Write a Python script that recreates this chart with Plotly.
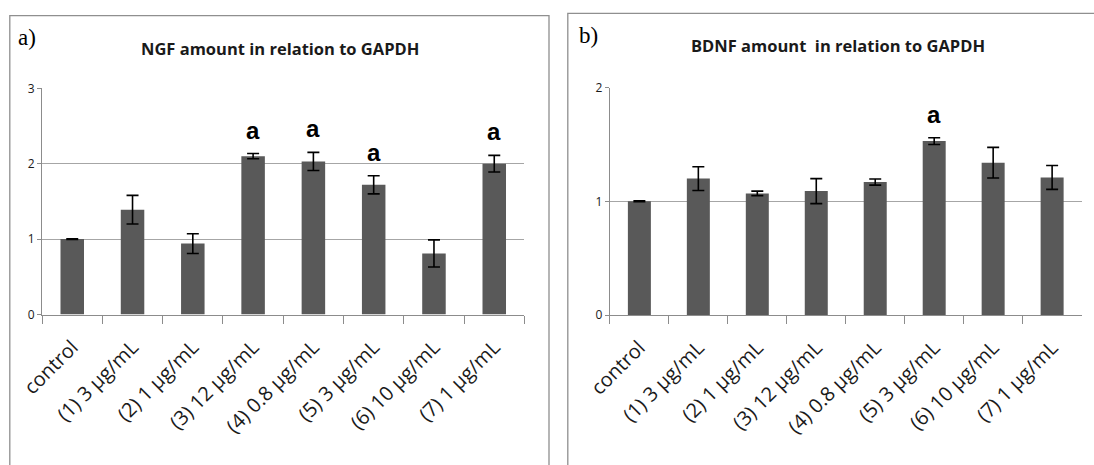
import plotly.graph_objects as go

categories = ["control", "(1) 3 µg/mL", "(2) 1 µg/mL", "(3) 12 µg/mL", "(4) 0.8 µg/mL",
              "(5) 3 µg/mL", "(6) 10 µg/mL", "(7) 1 µg/mL"]

ngf_values = [1.00, 1.39, 0.94, 2.10, 2.03, 1.72, 0.81, 2.00]
ngf_errors = [0.005, 0.19, 0.13, 0.035, 0.12, 0.12, 0.18, 0.11]
ngf_sig = ["", "", "", "a", "a", "a", "", "a"]

bdnf_values = [1.00, 1.20, 1.07, 1.09, 1.17, 1.53, 1.34, 1.21]
bdnf_errors = [0.004, 0.105, 0.02, 0.11, 0.027, 0.03, 0.135, 0.105]
bdnf_sig = ["", "", "", "", "", "a", "", ""]

ngf_ticks = [0, 1, 2, 3]
bdnf_ticks = [0, 1, 2]

W, H = 1094, 465
BAR = "#595959"
AXIS = "#8c8c8c"
GRID = "#a6a6a6"
TXT = "#1a1a1a"

def px(x):
    return x / W

def py(y):
    return (H - y) / H

fig = go.Figure()

for vals, errs, xa, ya in [(ngf_values, ngf_errors, "x", "y"), (bdnf_values, bdnf_errors, "x2", "y2")]:
    fig.add_trace(go.Bar(
        x=categories, y=vals, xaxis=xa, yaxis=ya,
        marker=dict(color=BAR, line=dict(width=0)),
        error_y=dict(type="data", array=errs, visible=True, color="black", thickness=1.6, width=6),
        width=0.39, showlegend=False, hoverinfo="skip",
    ))

axis_common = dict(showline=True, linecolor=AXIS, linewidth=1.3, zeroline=False, automargin=False)
xax = dict(type="category", tickangle=-45, ticks="outside", ticklen=8, tickcolor=AXIS, tickwidth=1.3,
           tickson="boundaries", showgrid=False, tickfont=dict(family="Open Sans", size=20, color=TXT),
           ticklabelstandoff=12, fixedrange=True, **axis_common)
yax_common = dict(ticks="outside", ticklen=4, tickcolor=AXIS, showgrid=True, gridcolor=GRID,
                  gridwidth=1.2, tickfont=dict(family="Open Sans", size=12, color=TXT), fixedrange=True,
                  ticksuffix="\u00a0\u00a0", **axis_common)

fig.update_layout(
    width=W, height=H,
    margin=dict(l=0, r=0, t=0, b=0, pad=0, autoexpand=False),
    paper_bgcolor="white", plot_bgcolor="white",
    bargap=0.6,
    xaxis=dict(domain=[px(42.1), px(524.4)], anchor="y", **xax),
    yaxis=dict(domain=[py(314.5), py(88.3)], range=[0, 3], tickvals=ngf_ticks, anchor="x", **yax_common),
    xaxis2=dict(domain=[px(609.9), px(1081.6)], anchor="y2", **xax),
    yaxis2=dict(domain=[py(315), py(87.7)], range=[0, 2], tickvals=bdnf_ticks, anchor="x2", **yax_common),
)

for sig, vals, errs, xr, yr in [(ngf_sig, ngf_values, ngf_errors, "x", "y"),
                               (bdnf_sig, bdnf_values, bdnf_errors, "x2", "y2")]:
    for c, s, v, e in zip(categories, sig, vals, errs):
        if s:
            fig.add_annotation(x=c, y=v + e, xref=xr, yref=yr, text="<b>%s</b>" % s,
                               showarrow=False, yanchor="bottom", yshift=8,
                               font=dict(family="Liberation Sans", size=24, color="black"))

fig.add_annotation(x=px(280), y=py(48), xref="paper", yref="paper", text="<b>NGF amount in relation to GAPDH</b>",
                   showarrow=False, xanchor="center", yanchor="middle",
                   font=dict(family="Open Sans", size=16.5, color=TXT))
fig.add_annotation(x=px(838), y=py(45), xref="paper", yref="paper", text="<b>BDNF amount  in relation to GAPDH</b>",
                   showarrow=False, xanchor="center", yanchor="middle",
                   font=dict(family="Open Sans", size=16.5, color=TXT))
fig.add_annotation(x=px(16), y=py(37), xref="paper", yref="paper", text="a)",
                   showarrow=False, xanchor="left", yanchor="middle",
                   font=dict(family="Liberation Serif", size=23, color="black"))
fig.add_annotation(x=px(577), y=py(35), xref="paper", yref="paper", text="b)",
                   showarrow=False, xanchor="left", yanchor="middle",
                   font=dict(family="Liberation Serif", size=23, color="black"))

fig.add_shape(type="rect", xref="paper", yref="paper", x0=px(9.8), x1=px(549), y0=-0.02, y1=py(15.7),
              line=dict(color="#8f8f8f", width=1.3))
fig.add_shape(type="rect", xref="paper", yref="paper", x0=px(567.8), x1=1.02, y0=-0.02, y1=py(13.3),
              line=dict(color="#8f8f8f", width=1.3))

fig.write_html("out.html", config={"displayModeBar": False},
               post_script="document.body.style.margin='0';document.body.style.overflow='hidden';")
